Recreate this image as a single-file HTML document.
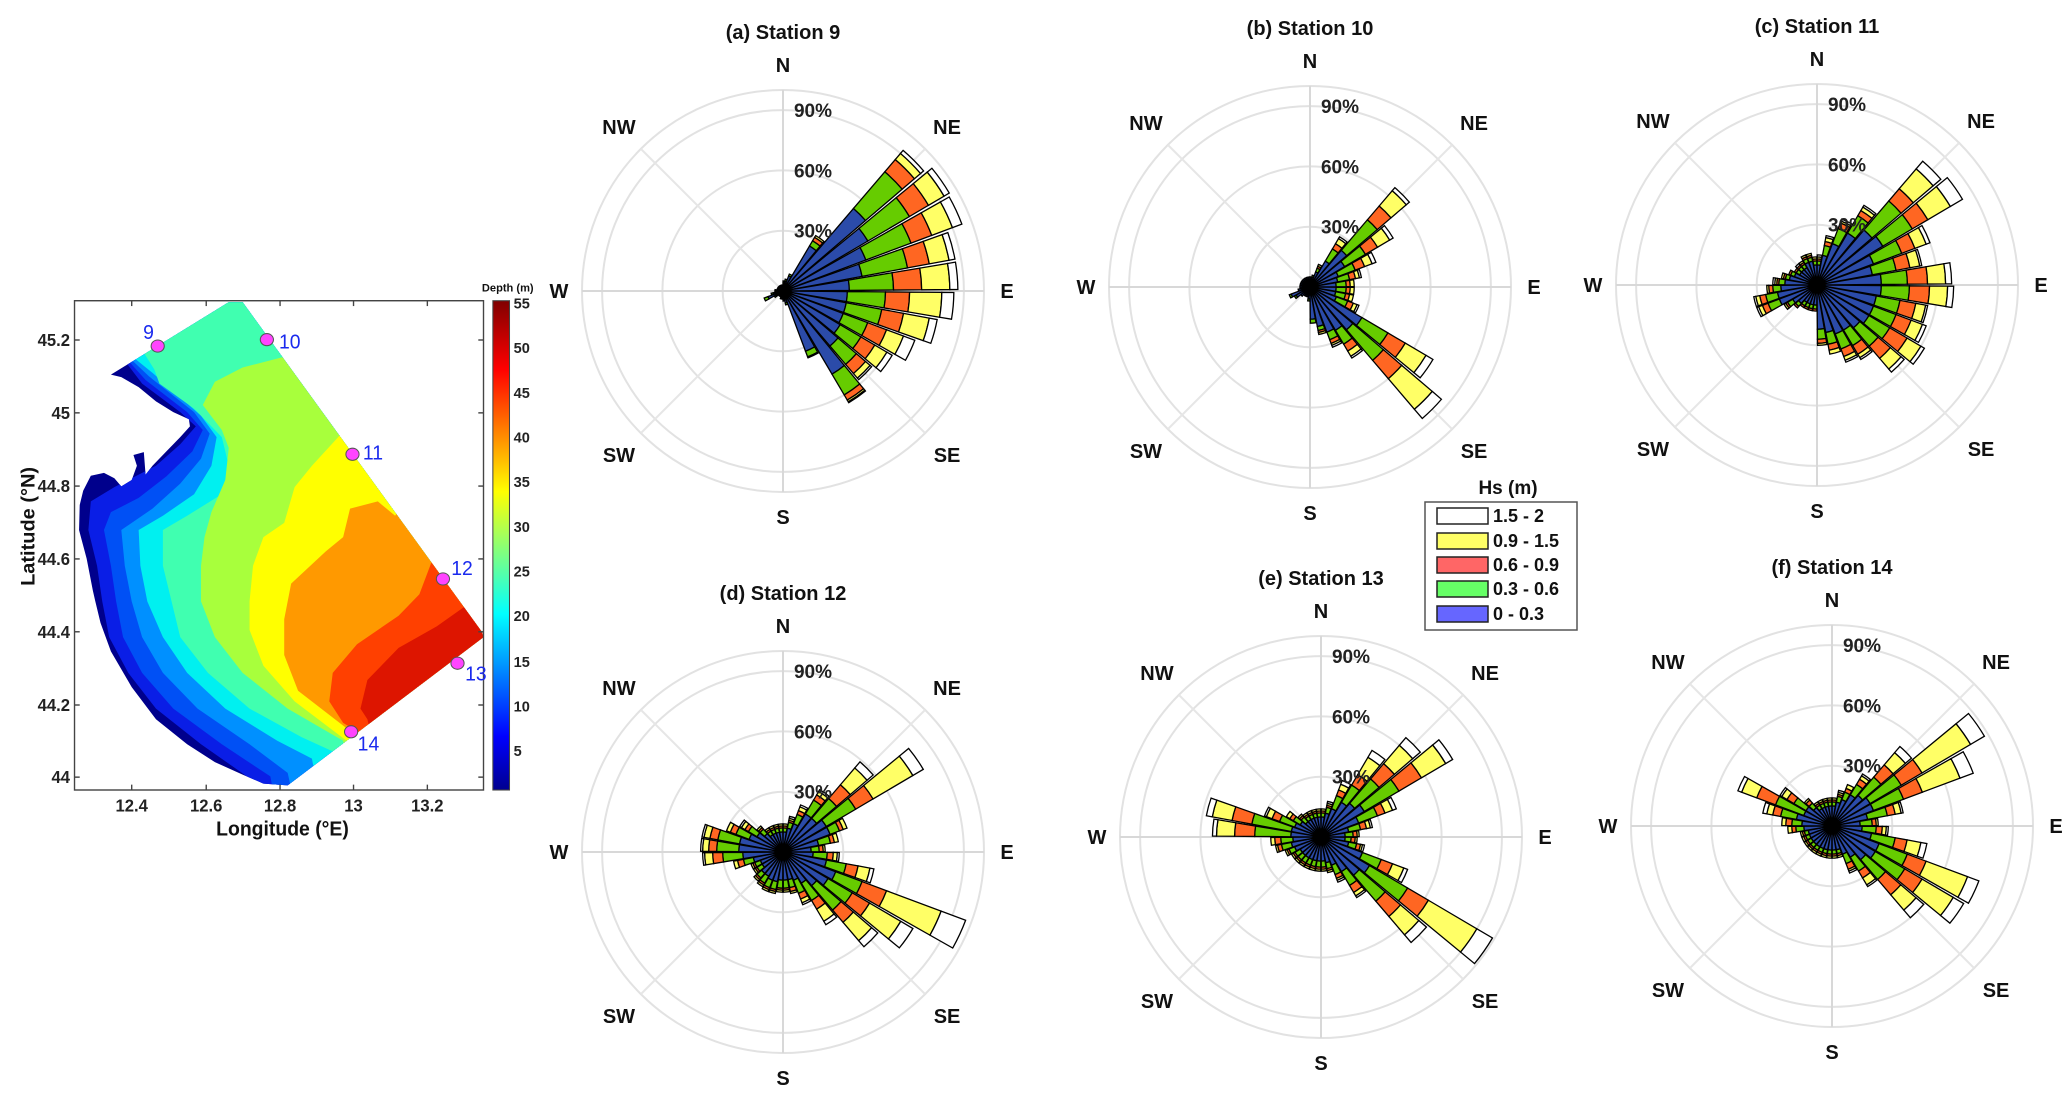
<!DOCTYPE html>
<html><head><meta charset="utf-8"><style>
html,body{margin:0;padding:0;background:#fff;}
svg{display:block;font-family:"Liberation Sans",sans-serif;}
</style></head><body>
<svg id="fig" xmlns="http://www.w3.org/2000/svg" width="2067" height="1097" viewBox="0 0 2067 1097">
<rect width="2067" height="1097" fill="#fff"/>
<svg x="0" y="280" width="540" height="560" viewBox="0 0 1558 1568" preserveAspectRatio="none">
<defs>
<clipPath id="dom"><polygon points="320,265 660,62 700,62 1390,985 1395,1000 830,1415 760,1410 700,1385 620,1350 540,1300 450,1230 380,1140 320,1040 290,960 275,900 268,870 250,780 228,700 230,630 240,590 262,548 300,540 330,555 350,578 380,560 395,520 385,490 415,482 420,545 440,520 480,480 520,440 548,410 545,390 500,370 450,340 400,300 350,272"/></clipPath>
<linearGradient id="jet" x1="0" y1="1" x2="0" y2="0">
<stop offset="0" stop-color="#00008f"/><stop offset="0.11" stop-color="#0000ff"/><stop offset="0.36" stop-color="#00ffff"/><stop offset="0.61" stop-color="#ffff00"/><stop offset="0.86" stop-color="#ff0000"/><stop offset="1" stop-color="#800000"/>
</linearGradient>
</defs>
<g clip-path="url(#dom)">
<rect x="0" y="0" width="1600" height="1600" fill="#00008c"/>
<polygon fill="#0a1ee6" points="300,150 410,290 520,370 565,410 520,460 450,520 330,580 262,620 255,700 280,800 295,900 315,1000 370,1100 450,1200 580,1300 720,1395 760,1600 1600,1600 1600,0 300,0"/>
<polygon fill="#0050f5" points="300,150 420,280 540,370 585,420 555,480 480,550 400,610 320,650 300,700 320,800 335,900 355,1000 410,1100 500,1200 640,1300 780,1390 820,1600 1600,1600 1600,0 300,0"/>
<polygon fill="#0090ff" points="300,150 430,270 560,370 605,430 580,500 520,570 440,640 350,700 360,800 380,900 410,1000 470,1100 570,1200 720,1300 830,1380 880,1600 1600,1600 1600,0 300,0"/>
<polygon fill="#00f0f0" points="300,150 440,260 580,380 625,440 610,520 560,600 470,660 400,700 405,800 425,900 470,1000 540,1100 650,1200 800,1290 900,1340 950,1600 1600,1600 1600,0 300,0"/>
<polygon fill="#40ffb0" points="380,150 445,250 460,290 560,360 640,440 660,520 640,600 540,660 470,700 470,800 495,900 520,1000 600,1100 720,1200 870,1280 960,1320 1000,1600 1600,1600 1600,0 380,0"/>
<polygon fill="#a8ff3c" points="830,150 820,215 700,245 620,285 585,350 640,420 660,470 650,560 610,650 590,720 580,800 580,900 620,1000 700,1100 830,1200 990,1290 1050,1600 1600,1600 1600,0 830,0"/>
<polygon fill="#ffff00" points="1100,350 985,430 900,520 850,580 820,680 760,720 730,800 720,900 720,980 760,1080 850,1180 1000,1290 1050,1600 1600,1600 1600,350"/>
<polygon fill="#ff9900" points="1250,500 1140,660 1090,620 1010,640 990,720 940,760 840,850 820,950 820,1050 860,1150 1020,1270 1100,1600 1600,1600 1600,500"/>
<polygon fill="#ff4000" points="1350,700 1245,790 1210,880 1150,940 1030,1020 960,1100 950,1180 990,1240 1040,1270 1100,1600 1600,1600 1600,700"/>
<polygon fill="#dd1500" points="1500,900 1340,915 1260,970 1150,1030 1060,1120 1040,1200 1060,1230 1150,1600 1600,1600 1600,900"/>
</g>
<rect x="215" y="58" width="1180" height="1370" fill="none" stroke="#444" stroke-width="4"/>
<g stroke="#444" stroke-width="4">
<line x1="215" y1="168" x2="230" y2="168"/><line x1="215" y1="372" x2="230" y2="372"/><line x1="215" y1="577" x2="230" y2="577"/><line x1="215" y1="781" x2="230" y2="781"/><line x1="215" y1="985" x2="230" y2="985"/><line x1="215" y1="1190" x2="230" y2="1190"/><line x1="215" y1="1392" x2="230" y2="1392"/>
<line x1="1380" y1="168" x2="1395" y2="168"/><line x1="1380" y1="372" x2="1395" y2="372"/><line x1="1380" y1="577" x2="1395" y2="577"/><line x1="1380" y1="781" x2="1395" y2="781"/><line x1="1380" y1="985" x2="1395" y2="985"/><line x1="1380" y1="1190" x2="1395" y2="1190"/><line x1="1380" y1="1392" x2="1395" y2="1392"/>
<line x1="380" y1="1413" x2="380" y2="1428"/><line x1="595" y1="1413" x2="595" y2="1428"/><line x1="808" y1="1413" x2="808" y2="1428"/><line x1="1020" y1="1413" x2="1020" y2="1428"/><line x1="1233" y1="1413" x2="1233" y2="1428"/>
<line x1="380" y1="58" x2="380" y2="73"/><line x1="595" y1="58" x2="595" y2="73"/><line x1="808" y1="58" x2="808" y2="73"/><line x1="1020" y1="58" x2="1020" y2="73"/><line x1="1233" y1="58" x2="1233" y2="73"/>
</g>
<g font-size="48" font-weight="bold" fill="#222" text-anchor="end">
<text x="202" y="185">45.2</text><text x="202" y="389">45</text><text x="202" y="594">44.8</text><text x="202" y="798">44.6</text><text x="202" y="1002">44.4</text><text x="202" y="1207">44.2</text><text x="202" y="1409">44</text>
</g>
<g font-size="48" font-weight="bold" fill="#222" text-anchor="middle">
<text x="380" y="1488">12.4</text><text x="595" y="1488">12.6</text><text x="808" y="1488">12.8</text><text x="1020" y="1488">13</text><text x="1233" y="1488">13.2</text>
</g>
<text x="815" y="1555" font-size="56" font-weight="bold" text-anchor="middle" fill="#111">Longitude (°E)</text>
<text x="0" y="0" transform="translate(100,690) rotate(-90)" font-size="56" font-weight="bold" text-anchor="middle" fill="#111">Latitude (°N)</text>
<rect x="1422" y="58" width="48" height="1370" fill="url(#jet)" stroke="#444" stroke-width="3"/>
<g font-size="42" font-weight="bold" fill="#222">
<text x="1482" y="80">55</text><text x="1482" y="205">50</text><text x="1482" y="330">45</text><text x="1482" y="455">40</text><text x="1482" y="580">35</text><text x="1482" y="705">30</text><text x="1482" y="830">25</text><text x="1482" y="955">20</text><text x="1482" y="1083">15</text><text x="1482" y="1208">10</text><text x="1482" y="1333">5</text>
</g>
<text x="1465" y="32" font-size="32" font-weight="bold" text-anchor="middle" fill="#111">Depth (m)</text>
<g fill="#ff44ff" stroke="#555" stroke-width="3">
<ellipse cx="455" cy="185" rx="19" ry="17"/>
<ellipse cx="770" cy="167" rx="19" ry="17"/>
<ellipse cx="1017" cy="488" rx="19" ry="17"/>
<ellipse cx="1278" cy="837" rx="19" ry="17"/>
<ellipse cx="1320" cy="1073" rx="19" ry="17"/>
<ellipse cx="1013" cy="1265" rx="19" ry="17"/>
</g>
<g font-size="56" fill="#1a2aee">
<text x="413" y="165">9</text><text x="805" y="192">10</text><text x="1047" y="503">11</text><text x="1302" y="826">12</text><text x="1342" y="1122">13</text><text x="1032" y="1318">14</text>
</g>
</svg>
<g id="roses"></g>
<g>
<text x="1508" y="494" font-size="19" font-weight="bold" text-anchor="middle" fill="#111">Hs (m)</text>
<rect x="1425" y="502" width="152" height="128" fill="#fff" stroke="#555" stroke-width="1.5"/>
<g stroke="#222" stroke-width="1.5">
<rect x="1437" y="508" width="51" height="16" fill="#ffffff"/>
<rect x="1437" y="533" width="51" height="16" fill="#ffff66"/>
<rect x="1437" y="557" width="51" height="16" fill="#ff6666"/>
<rect x="1437" y="581" width="51" height="16" fill="#66ff66"/>
<rect x="1437" y="606" width="51" height="16" fill="#6666ff"/>
</g>
<g font-size="18" font-weight="bold" fill="#111">
<text x="1493" y="522">1.5 - 2</text>
<text x="1493" y="547">0.9 - 1.5</text>
<text x="1493" y="571">0.6 - 0.9</text>
<text x="1493" y="595">0.3 - 0.6</text>
<text x="1493" y="620">0 - 0.3</text>
</g>
</g>
</svg>
<script>
// Direction bins: 36 bins of 10 degrees (bin i covers 10i..10i+10, clockwise from N)
// Cumulative frequency (%) up to each Hs class
const classNames = ["0-0.3","0.3-0.6","0.6-0.9","0.9-1.5","1.5-2"];
const classColors = ["#2b4ba9","#66cc00","#ff6622","#ffff66","#ffffff"];
const ringTicks = [30,60,90];
const ringLabels = ["30%","60%","90%"];
const compassLabels = ["N","NE","E","SE","S","SW","W","NW"];
const stationTitles = ["(a) Station 9","(b) Station 10","(c) Station 11","(d) Station 12","(e) Station 13","(f) Station 14"];

const s9_b=[4,5,8,26,54,49,44,40,33,32,32,32,33,36,48,32,6,5,4,4,3,3,3,4,8,5,4,4,3,3,3,3,3,3,3,3];
const s9_g=[5,6,9,29,78,73,68,63,55,51,50,45,45,48,60,35,7,5,4,4,3,3,3,5,10,6,4,4,3,3,3,3,3,3,3,3];
const s9_r=[5,6,9,31,86,84,79,74,69,63,61,55,53,54,63,35.5,7,5,4,4,3,3,3,5,10,6,4,4,3,3,3,3,3,3,3,3];
const s9_y=[5,6,9,32,90,93,90,84,83,79,74,64,60,57,64,35.5,7,5,4,4,3,3,3,5,10,6,4,4,3,3,3,3,3,3,3,3];
const s9_w=[5,6,9,32,92,96,95,87,87,85,78,70,63,58,64.5,35.5,7,5,4,4,3,3,3,5,10,6,4,4,3,3,3,3,3,3,3,3];

const s10_b=[5,5,8,15,24,20,15,14,13,13,13,14,30,28,25,24,20,16,6,5,5,5,6,8,10,6,5,5,5,5,5,5,5,5,5,5];
const s10_g=[5,6,10,22,44,32,24,20,18,18,18,20,45,48,33,28,22,18,7,5,5,5,6,9,11,6,5,5,5,5,5,5,5,5,5,5];
const s10_r=[5,6,11,25,53,39,29,23,20,20,20,23,55,60,37,30,23,18,7,5,5,5,6,9,11,6,5,5,5,5,5,5,5,5,5,5];
const s10_y=[5,6,12,28,63,46,33,25,22,22,22,25,67,80,40,31,24,18,7,5,5,5,6,9,11,6,5,5,5,5,5,5,5,5,5,5];
const s10_w=[5,6,12,29,65,48,35,26,22,22,22,26,71,86,41,32,24,18,7,5,5,5,6,9,11,6,5,5,5,5,5,5,5,5,5,5];

const s11_b=[10,15,22,30,36,38,30,28,32,32,30,30,30,28,26,26,24,22,10,10,10,10,12,14,20,20,18,16,14,12,10,10,10,12,12,10];
const s11_g=[12,20,30,40,55,55,45,40,45,46,42,42,42,40,35,34,30,27,12,12,12,12,14,17,26,26,22,19,16,14,12,12,12,14,14,12];
const s11_r=[13,22,33,43,63,64,52,47,55,56,50,50,52,48,40,38,33,29,13,13,13,13,15,18,29,29,24,20,17,15,13,13,13,15,15,13];
const s11_y=[14,24,34,45,76,77,58,52,64,65,55,56,60,55,42,40,35,30,13,13,13,13,15,19,31,31,25,21,18,15,13,13,14,16,16,14];
const s11_w=[15,25,35,46,81,84,60,53,67,68,56,58,62,57,43,41,35,30,13,13,13,13,15,19,32,32,25,22,18,15,13,14,14,16,16,14];

const s12_b=[10,12,15,22,22,25,25,18,14,15,22,28,26,22,18,15,14,14,14,15,15,14,14,12,12,15,20,22,22,18,15,12,10,10,10,10];
const s12_g=[12,15,20,30,35,42,30,24,18,22,32,42,40,38,28,22,18,18,18,19,19,18,17,15,15,20,30,33,33,25,20,15,12,12,12,12];
const s12_r=[13,16,22,33,44,52,32,26,20,25,38,55,50,46,33,25,20,19,19,20,20,19,18,16,16,23,35,37,37,28,22,16,13,13,13,13];
const s12_y=[14,17,24,35,55,75,34,28,21,27,44,84,68,58,40,27,21,20,20,21,21,20,19,17,17,25,39,40,40,30,24,17,14,14,14,14];
const s12_w=[14,18,25,36,59,81,34,28,21,28,46,97,75,62,42,28,21,20,20,21,21,20,19,17,17,25,40,41,41,30,25,17,14,14,14,14];

const s13_b=[10,12,15,20,22,25,20,14,12,12,14,22,28,25,20,15,13,12,12,12,12,12,12,12,14,15,14,15,15,14,12,10,10,10,10,10];
const s13_g=[12,15,22,30,38,45,30,20,16,15,18,32,50,42,28,20,16,15,15,15,15,15,15,15,17,20,20,33,35,22,16,13,12,12,12,12];
const s13_r=[13,16,25,36,48,58,34,23,18,17,20,38,62,52,32,22,17,16,16,16,16,16,16,16,18,22,23,43,45,26,18,14,13,13,13,13];
const s13_y=[14,17,28,46,60,72,38,25,19,18,21,44,90,64,34,23,18,17,17,17,17,17,17,17,19,23,25,52,55,29,20,15,14,14,14,14];
const s13_w=[14,18,30,50,65,76,40,26,19,18,22,46,99,69,35,24,18,17,17,17,17,17,17,17,19,23,25,54,58,30,20,15,14,14,14,14];

const s14_b=[10,12,14,18,20,22,22,18,14,15,20,25,25,22,18,15,12,12,12,12,12,12,12,12,12,12,14,15,18,15,15,12,10,10,10,10];
const s14_g=[12,15,18,24,32,40,38,28,20,22,32,40,42,35,26,20,14,14,14,14,14,14,14,14,14,14,18,20,26,30,22,15,12,12,12,12];
const s14_r=[13,16,20,27,40,52,48,32,22,25,38,50,52,45,30,23,15,15,15,15,15,15,15,15,15,15,20,23,30,40,26,17,13,13,13,13];
const s14_y=[14,17,22,29,48,80,68,35,23,27,45,72,70,55,34,24,16,16,16,16,16,16,16,16,16,16,22,25,33,48,29,18,14,14,14,14];
const s14_w=[14,18,22,30,52,88,75,36,23,28,48,78,76,60,35,25,16,16,16,16,16,16,16,16,16,16,22,25,35,50,30,18,14,14,14,14];

const stationData=[[s9_b,s9_g,s9_r,s9_y,s9_w],[s10_b,s10_g,s10_r,s10_y,s10_w],[s11_b,s11_g,s11_r,s11_y,s11_w],[s12_b,s12_g,s12_r,s12_y,s12_w],[s13_b,s13_g,s13_r,s13_y,s13_w],[s14_b,s14_g,s14_r,s14_y,s14_w]];

const NS="http://www.w3.org/2000/svg";
const centers=[[783,291],[1310,287],[1817,285],[783,852],[1321,837],[1832,826]];
const R=201, RMAX=100;
function rScale(v){return v/RMAX*R;}
function pt(cx,cy,r,a){const t=a*Math.PI/180;return [cx+r*Math.sin(t),cy-r*Math.cos(t)];}
function mk(tag,attrs,parent){const e=document.createElementNS(NS,tag);for(const k in attrs)e.setAttribute(k,attrs[k]);parent.appendChild(e);return e;}
function sectorPath(cx,cy,r0,r1,a0,a1){
  const p1=pt(cx,cy,r1,a0),p2=pt(cx,cy,r1,a1);
  if(r0<=0.01){return `M${cx},${cy}L${p1[0]},${p1[1]}A${r1},${r1} 0 0 1 ${p2[0]},${p2[1]}Z`;}
  const p3=pt(cx,cy,r0,a1),p4=pt(cx,cy,r0,a0);
  return `M${p4[0]},${p4[1]}L${p1[0]},${p1[1]}A${r1},${r1} 0 0 1 ${p2[0]},${p2[1]}L${p3[0]},${p3[1]}A${r0},${r0} 0 0 0 ${p4[0]},${p4[1]}Z`;
}
const root=document.getElementById('roses');
centers.forEach((c,si)=>{
  const [cx,cy]=c;
  const g=mk('g',{},root);
  
  
  const grid=mk('g',{stroke:'#e2e2e2','stroke-width':2,fill:'none'},g);
  
  
  ringTicks.concat([RMAX]).forEach(v=>{
    const ci=mk('circle',{cx:cx,cy:cy,r:rScale(v)},grid);
    
    
  });
  for(let k=0;k<8;k++){
    const p=pt(cx,cy,R,k*45);
    const ln=mk('line',{x1:cx,y1:cy,x2:p[0],y2:p[1],stroke:(k%2==0?'#d8d8d8':'#e6e6e6')},grid);
    
    
  }
  const data=stationData[si];
  for(let i=0;i<36;i++){
    const a0=10*i+0.5,a1=10*i+9.5;
    let prev=0;
    for(let k=0;k<5;k++){
      const v=data[k][i];
      if(v>prev+0.01){
        const p=mk('path',{d:sectorPath(cx,cy,rScale(prev),rScale(v),a0,a1),fill:classColors[k],stroke:'#000','stroke-width':1.3},g);
        
        
      }
      prev=Math.max(prev,v);
    }
  }
  const dot=mk('circle',{cx:cx,cy:cy,r:6,fill:'#000'},g);
  
  
  ringTicks.forEach((v,j)=>{
    const t=mk('text',{x:cx+30,y:cy-rScale(v)+7,'font-size':19,'font-weight':'bold','text-anchor':'middle',fill:'#222'},g);
    t.textContent=ringLabels[j];
    
    
  });
  compassLabels.forEach((lab,k)=>{
    const r=(k%2==0)?(k%4==0?226:224):232;
    const p=pt(cx,cy,r,k*45);
    const t=mk('text',{x:p[0],y:p[1]+7,'font-size':20,'font-weight':'bold','text-anchor':'middle',fill:'#111'},g);
    t.textContent=lab;
    
    
  });
  const tt=mk('text',{x:cx,y:cy-252,'font-size':20,'font-weight':'bold','text-anchor':'middle',fill:'#111'},g);
  tt.textContent=stationTitles[si];
  
  
});
</script>
</body></html>
